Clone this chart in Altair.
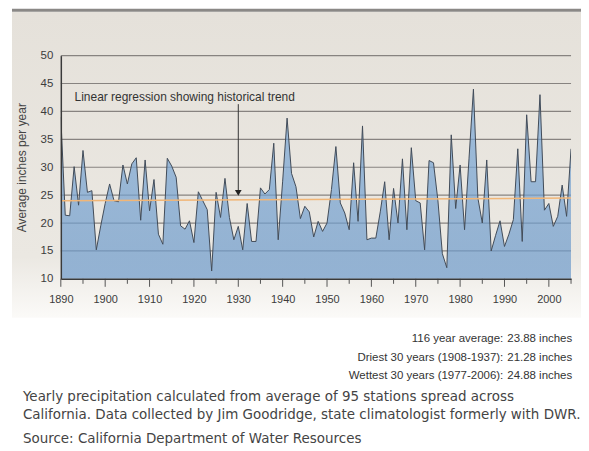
import altair as alt
import pandas as pd

# ---------------- data ----------------
years = list(range(1890, 2006))
precip = [
    39.0, 21.4, 21.3, 30.1, 23.2, 33.0, 25.5, 25.8, 15.2, 19.5,   # 1890s
    23.5, 27.0, 24.0, 23.8, 30.4, 27.0, 30.6, 31.7, 20.5, 31.3,   # 1900s
    22.2, 27.8, 18.0, 16.2, 31.6, 30.2, 28.2, 19.5, 18.9, 20.4,   # 1910s
    16.5, 25.6, 24.0, 22.4, 11.4, 25.5, 21.0, 28.0, 21.0, 17.0,   # 1920s
    19.4, 15.2, 23.5, 16.7, 16.7, 26.3, 25.2, 26.0, 34.3, 17.0,   # 1930s
    27.5, 38.8, 28.9, 26.5, 20.8, 23.0, 22.0, 17.5, 20.3, 18.5,   # 1940s
    20.0, 26.0, 33.7, 23.6, 21.8, 18.8, 30.8, 20.3, 37.4, 17.0,   # 1950s
    17.3, 17.3, 22.0, 27.4, 17.0, 26.2, 20.0, 31.5, 18.8, 33.5,   # 1960s
    24.0, 23.6, 15.2, 31.2, 30.8, 24.0, 14.5, 12.0, 35.8, 22.6,   # 1970s
    30.4, 18.8, 31.5, 44.0, 24.5, 20.0, 31.3, 15.0, 17.8, 20.4,   # 1980s
    15.8, 18.0, 20.6, 33.3, 16.7, 39.4, 27.4, 27.4, 43.0, 22.3,   # 1990s
    23.5, 19.4, 21.2, 26.8, 21.2, 33.3,                           # 2000s
]
y_ticks = [10, 15, 20, 25, 30, 35, 40, 45, 50]
grid_values = [15, 20, 25, 30, 35, 40, 45, 50]
x_label_years = list(range(1890, 2001, 10))
major_tick_years = list(range(1890, 2001, 10))
minor_tick_years = list(range(1895, 2006, 10))

annotation_text = "Linear regression showing historical trend"
annotation_year = [1893.1]
annotation_value = [42.5]
arrow_year = [1930]
arrow_top = [41.3]
arrow_bottom = [25.4]

stat_labels = ["116 year average:", "Driest 30 years (1908-1937):", "Wettest 30 years (1977-2006):"]
stat_values = ["23.88 inches", "21.28 inches", "24.88 inches"]
caption_lines = [
    "Yearly precipitation calculated from average of 95 stations spread across",
    "California. Data collected by Jim Goodridge, state climatologist formerly with DWR.",
]
source_line = "Source: California Department of Water Resources"

# ---------------- frames ----------------
df = pd.DataFrame({"year": years, "precip": precip})
grid_df = pd.DataFrame({"v": grid_values})
major_df = pd.DataFrame({"year": major_tick_years})
minor_df = pd.DataFrame({"year": minor_tick_years})
arrow_df = pd.DataFrame({"year": arrow_year, "top": arrow_top, "bottom": arrow_bottom})
ann_df = pd.DataFrame({"year": annotation_year, "v": annotation_value, "t": [annotation_text]})
one = pd.DataFrame({"a": [0]})

W, H = 512, 224
FONT = "Liberation Sans, Arial, sans-serif"
CAP_FONT = "DejaVu Sans"

xscale = alt.Scale(domain=[1890, 2005], nice=False, zero=False)
yscale = alt.Scale(domain=[10, 50], nice=False, zero=False)

y_axis = alt.Axis(
    values=y_ticks, title="Average inches per year", grid=False,
    ticks=False, tickSize=0, labelPadding=8, labelFont=FONT,
    labelOverlap=False, labelFlush=False,
    labelFontSize=11.5, labelColor="#3c3c3c", domainColor="#3a3a3a",
    domainWidth=1.5, titleFont=FONT, titleFontSize=12,
    titleFontWeight="normal", titleColor="#444444", titlePadding=12,
    zindex=1,
)
x_axis = alt.Axis(
    values=x_label_years, format="d", title=None, grid=False,
    ticks=False, tickSize=0, labelPadding=15, labelFlush=False,
    labelOverlap=False, labelFont=FONT, labelFontSize=11,
    labelColor="#3c3c3c", domainColor="#3a3a3a", domainWidth=1.5,
    zindex=1,
)

panel = alt.Chart(one).mark_rect(
    color=alt.Gradient(
        gradient="linear",
        stops=[
            alt.GradientStop(color="#e5e1da", offset=0),
            alt.GradientStop(color="#ebe8e2", offset=0.8),
            alt.GradientStop(color="#fbfaf8", offset=1),
        ],
        x1=1, x2=1, y1=0, y2=1,
    )
).encode(x=alt.value(-49), x2=alt.value(522), y=alt.value(-44), y2=alt.value(263))

band = alt.Chart(one).mark_rect(color="#8a8886").encode(
    x=alt.value(-49), x2=alt.value(522), y=alt.value(-47), y2=alt.value(-44)
)

grid = alt.Chart(grid_df).mark_rule(color="#878380", strokeWidth=1.2).encode(
    y=alt.Y("v:Q", scale=yscale, axis=y_axis), x=alt.value(0), x2=alt.value(W)
)

area = alt.Chart(df).mark_area(
    interpolate="linear",
    clip=True,
    color=alt.Gradient(
        gradient="linear",
        stops=[
            alt.GradientStop(color="#80acd9", offset=0),
            alt.GradientStop(color="#6593c5", offset=1),
        ],
        x1=1, x2=1, y1=0, y2=1,
    ),
    line={"color": "#414b58", "strokeWidth": 1},
).encode(
    x=alt.X("year:Q", scale=xscale, axis=x_axis),
    y=alt.Y("precip:Q", scale=yscale, axis=y_axis),
)

trend = alt.Chart(df).transform_regression("year", "precip").mark_line(
    color="#f1b677", strokeWidth=1.5
).encode(x=alt.X("year:Q", scale=xscale, axis=x_axis), y=alt.Y("precip:Q", scale=yscale, axis=y_axis))

arrow = alt.Chart(arrow_df).mark_rule(color="#333333", strokeWidth=1).encode(
    x=alt.X("year:Q", scale=xscale, axis=x_axis), y=alt.Y("top:Q", scale=yscale, axis=y_axis), y2="bottom:Q"
)
arrow_head = alt.Chart(arrow_df).mark_point(
    shape="triangle-down", filled=True, color="#222222", size=45, opacity=1
).encode(x=alt.X("year:Q", scale=xscale, axis=x_axis), y=alt.Y("bottom:Q", scale=yscale, axis=y_axis))

ann = alt.Chart(ann_df).mark_text(
    align="left", baseline="middle", font=FONT, fontSize=12, color="#333333"
).encode(x=alt.X("year:Q", scale=xscale, axis=x_axis), y=alt.Y("v:Q", scale=yscale, axis=y_axis), text="t:N")

major_ticks = alt.Chart(major_df).mark_rule(color="#555555", strokeWidth=1).encode(
    x=alt.X("year:Q", scale=xscale, axis=x_axis), y=alt.value(H), y2=alt.value(H + 8)
)
minor_ticks = alt.Chart(minor_df).mark_rule(color="#555555", strokeWidth=1).encode(
    x=alt.X("year:Q", scale=xscale, axis=x_axis), y=alt.value(H), y2=alt.value(H + 5)
)

texts = []
stat_y = [284, 303, 322]
for lab, val, yy in zip(stat_labels, stat_values, stat_y):
    texts.append(alt.Chart(one).mark_text(
        align="right", baseline="middle", font=FONT, fontSize=11.5, color="#333333"
    ).encode(x=alt.value(444), y=alt.value(yy), text=alt.value(lab)))
    texts.append(alt.Chart(one).mark_text(
        align="left", baseline="middle", font=FONT, fontSize=11.5, color="#333333"
    ).encode(x=alt.value(448), y=alt.value(yy), text=alt.value(val)))

for line, yy in zip(caption_lines, [343, 361]):
    texts.append(alt.Chart(one).mark_text(
        align="left", baseline="middle", font=CAP_FONT, fontSize=13.5, color="#444444"
    ).encode(x=alt.value(-38), y=alt.value(yy), text=alt.value(line)))
texts.append(alt.Chart(one).mark_text(
    align="left", baseline="middle", font=CAP_FONT, fontSize=13.5, color="#444444"
).encode(x=alt.value(-38), y=alt.value(385), text=alt.value(source_line)))

chart = alt.layer(
    panel, band, grid, area, trend, arrow, arrow_head, ann, major_ticks, minor_ticks, *texts
).properties(
    width=W, height=H,
    autosize=alt.AutoSizeParams(type="none"),
    padding={"left": 53, "top": 47, "right": 10, "bottom": 176},
    background="white",
).configure_view(strokeWidth=0)

chart.save("out.html", embed_options={"renderer": "svg", "actions": False})
